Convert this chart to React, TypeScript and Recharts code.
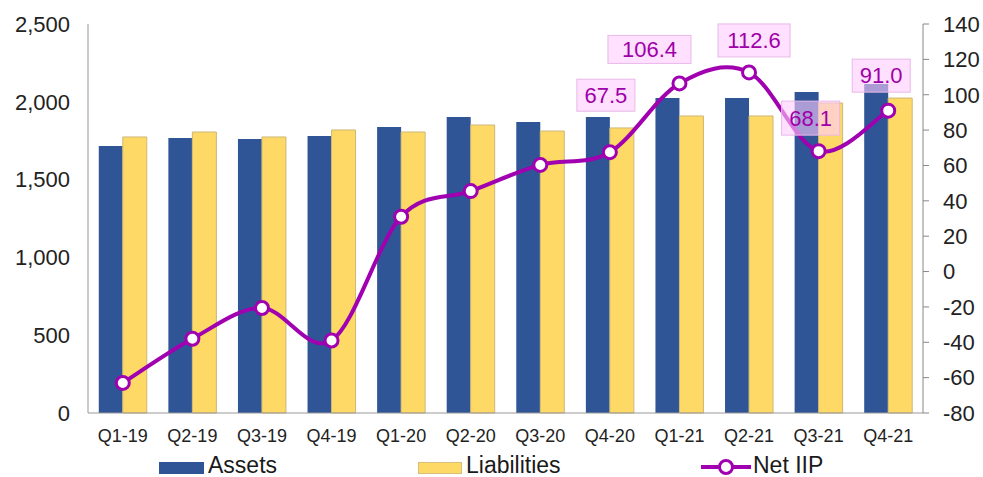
import React from 'react';
import { ComposedChart, Bar, Line, XAxis, YAxis, Legend, LabelList } from 'recharts';

const quarters = ['Q1-19', 'Q2-19', 'Q3-19', 'Q4-19', 'Q1-20', 'Q2-20', 'Q3-20', 'Q4-20', 'Q1-21', 'Q2-21', 'Q3-21', 'Q4-21'];
const assets = [1716, 1767, 1761, 1780, 1838, 1902, 1870, 1902, 2024, 2024, 2063, 2114];
const liabilities = [1774, 1806, 1774, 1819, 1806, 1851, 1812, 1832, 1909, 1909, 1992, 2024];
const netIip = [-63, -38, -20.6, -39, 31, 45.5, 60.3, 67.5, 106.4, 112.6, 68.1, 91.0];
const labelledFrom = 7;
const leftTicks = [0, 500, 1000, 1500, 2000, 2500];
const rightTicks = [-80, -60, -40, -20, 0, 20, 40, 60, 80, 100, 120, 140];

const data = quarters.map((q, i) => ({
  q,
  assets: assets[i],
  liabilities: liabilities[i],
  net: netIip[i],
}));

// label box placement relative to its point (Excel put them by hand)
const boxes = [
  { dx: -4, dy: -57, w: 58, h: 32 },
  { dx: -30, dy: -34, w: 83, h: 28 },
  { dx: 5, dy: -32, w: 72, h: 33 },
  { dx: -8, dy: -33, w: 58, h: 34 },
  { dx: -7, dy: -35, w: 58, h: 33 },
];

const FONT = '"Liberation Sans", Arial, sans-serif';
const BLUE = '#2F5597';
const YELLOW = '#FFD966';
const PURPLE = '#A000B0';

// Excel-like smoothed line (Catmull-Rom to bezier)
const excelSmooth = (context: any) => {
  let pts: [number, number][] = [];
  return {
    areaStart() {},
    areaEnd() {},
    lineStart() {
      pts = [];
    },
    point(x: number, y: number) {
      pts.push([+x, +y]);
    },
    lineEnd() {
      if (!pts.length) return;
      context.moveTo(pts[0][0], pts[0][1]);
      for (let i = 0; i < pts.length - 1; i++) {
        const p0 = pts[Math.max(i - 1, 0)];
        const p1 = pts[i];
        const p2 = pts[i + 1];
        const p3 = pts[Math.min(i + 2, pts.length - 1)];
        context.bezierCurveTo(
          p1[0] + (p2[0] - p0[0]) / 6,
          p1[1] + (p2[1] - p0[1]) / 6,
          p2[0] - (p3[0] - p1[0]) / 6,
          p2[1] - (p3[1] - p1[1]) / 6,
          p2[0],
          p2[1]
        );
      }
    },
  };
};

const NetLabel = (props: any) => {
  const { x, y, value } = props;
  const index = netIip.indexOf(value);
  if (index < labelledFrom) return null;
  const b = boxes[index - labelledFrom];
  const cx = x + b.dx;
  const cy = y + b.dy;
  return (
    <g>
      <rect x={cx - b.w / 2} y={cy - b.h / 2} width={b.w} height={b.h} fill="#FFCCFF" fillOpacity={0.6} stroke="#E8B8E8" strokeWidth={1} />
      <text x={cx} y={cy} textAnchor="middle" dominantBaseline="central" fontFamily={FONT} fontSize={22} fill="#A000A8">
        {Number(value).toFixed(1)}
      </text>
    </g>
  );
};

const renderLegend = () => (
  <div style={{ position: 'relative', width: 983, height: 30, fontFamily: FONT, fontSize: 23, color: '#1a1a1a' }}>
    <div style={{ position: 'absolute', left: 159, top: 15, width: 45, height: 12, background: BLUE }} />
    <div style={{ position: 'absolute', left: 208, top: 7, lineHeight: '23px' }}>Assets</div>
    <div style={{ position: 'absolute', left: 418, top: 15, width: 44, height: 12, background: YELLOW, boxSizing: 'border-box', border: '1px solid #D8C07A' }} />
    <div style={{ position: 'absolute', left: 466, top: 7, lineHeight: '23px' }}>Liabilities</div>
    <svg style={{ position: 'absolute', left: 700, top: 10 }} width={52} height={20}>
      <line x1={1} y1={10} x2={51} y2={10} stroke={PURPLE} strokeWidth={4} />
      <circle cx={26} cy={10} r={6.5} fill="#fff" stroke={PURPLE} strokeWidth={3} />
    </svg>
    <div style={{ position: 'absolute', left: 753, top: 7, lineHeight: '23px' }}>Net IIP</div>
  </div>
);

document.body.style.margin = '0';

export default function App() {
  return (
    <div style={{ width: 983, height: 477, background: '#fff' }}>
      <ComposedChart width={983} height={477} data={data} margin={{ top: 24, right: 0, bottom: 0, left: 0 }} barCategoryGap="15.5%" barGap={0}>
        <XAxis
          dataKey="q"
          height={34}
          tickLine={false}
          tickSize={6}
          tickMargin={10}
          axisLine={{ stroke: '#999' }}
          tick={{ fontFamily: FONT, fontSize: 18, fill: '#222' }}
          interval={0}
        />
        <YAxis
          yAxisId="left"
          width={88}
          domain={[0, 2500]}
          ticks={leftTicks}
          tickLine={false}
          tickSize={6}
          tickMargin={12}
          axisLine={{ stroke: '#999' }}
          tickFormatter={(v: number) => v.toLocaleString('en-US')}
          tick={{ fontFamily: FONT, fontSize: 22, fill: '#222' }}
        />
        <YAxis
          yAxisId="right"
          orientation="right"
          width={60}
          domain={[-80, 140]}
          ticks={rightTicks}
          tickLine={{ stroke: '#888' }}
          tickSize={6}
          tickMargin={14}
          axisLine={{ stroke: '#888' }}
          tick={{ fontFamily: FONT, fontSize: 22, fill: '#222' }}
        />
        <Legend verticalAlign="bottom" content={renderLegend} wrapperStyle={{ left: 0, bottom: 0, width: 983, height: 30 }} />
        <Bar yAxisId="left" dataKey="assets" name="Assets" fill={BLUE} isAnimationActive={false} />
        <Bar yAxisId="left" dataKey="liabilities" name="Liabilities" fill={YELLOW} stroke="#CDB777" strokeWidth={1} isAnimationActive={false} />
        <Line
          yAxisId="right"
          dataKey="net"
          name="Net IIP"
          type={excelSmooth as any}
          stroke={PURPLE}
          strokeWidth={4}
          dot={{ r: 6.5, fill: '#fff', stroke: PURPLE, strokeWidth: 3 }}
          activeDot={false}
          isAnimationActive={false}
        >
          <LabelList dataKey="net" content={NetLabel} />
        </Line>
      </ComposedChart>
    </div>
  );
}
